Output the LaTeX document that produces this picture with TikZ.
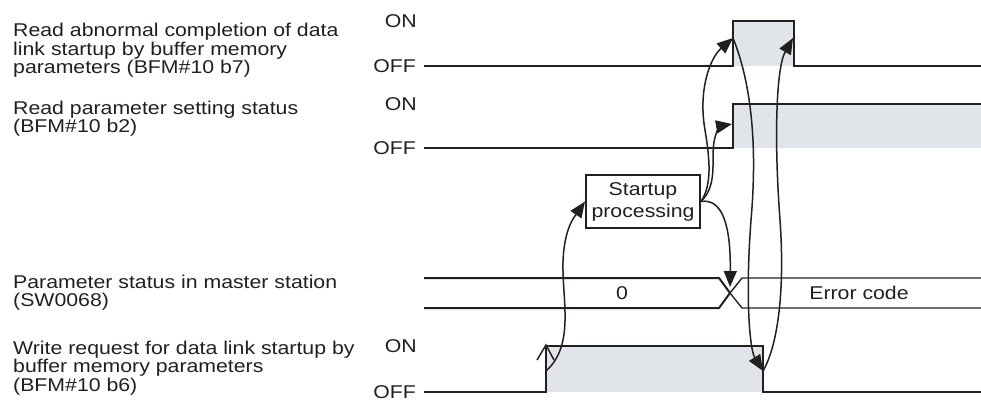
\documentclass[tikz,border=0pt]{standalone}
\usepackage{fontspec}
\setmainfont{Liberation Sans}[FakeStretch=1.15]
\usetikzlibrary{arrows.meta}
\definecolor{ink}{HTML}{231F20}
\definecolor{pulse}{HTML}{E1E4E9}

\begin{document}
\begin{tikzpicture}[x=1bp, y=-1bp, font=\fontsize{18.5bp}{18.5bp}\selectfont, text=ink,
	wave/.style={draw=ink, line width=2.2bp},
	bus/.style={draw=ink, line width=2bp},
	flow/.style={draw=ink, line width=1.5bp, -{Triangle[length=16bp, width=13bp]}},
	sig/.style={anchor=north west, align=left, inner sep=0pt},
	lvl/.style={anchor=east, inner sep=0pt}]
				\useasboundingbox (0,0) rectangle (981,403);
				
				% signal names
				\node[sig] (labB7) at (13,23) {Read abnormal completion of data\\link startup by buffer memory\\parameters (BFM\#10 b7)};
				\node[sig] (labB2) at (13,100.5) {Read parameter setting status\\(BFM\#10 b2)};
				\node[sig] (labSW) at (13,274.5) {Parameter status in master station\\(SW0068)};
				\node[sig] (labB6) at (13,340.5) {Write request for data link startup by\\buffer memory parameters\\(BFM\#10 b6)};
				
				\node[lvl] (onB7) at (417,21) {ON};
				\node[lvl] (offB7) at (416,66) {OFF};
				\node[lvl] (onB2) at (417,104) {ON};
				\node[lvl] (offB2) at (416,148) {OFF};
				\node[lvl] (onB6) at (417,346) {ON};
				\node[lvl] (offB6) at (416,392) {OFF};
				
				% waveforms
				\fill[pulse] (733,21) rectangle (794,66);
				\fill[pulse] (733,104) rectangle (981,148);
				\fill[pulse] (546,346) rectangle (763,392);
				
				\draw[wave] (424,66) -- (733,66) -- (733,21) -- (794,21) -- (794,66) -- (981,66);
				\draw[wave] (424,148) -- (733,148) -- (733,104) -- (981,104);
				\draw[wave] (424,392) -- (546,392) -- (546,346) -- (763,346) -- (763,392) -- (981,392);
				\draw[draw=ink, line width=1.5bp] (537,360) -- (546,345) -- (554,360);
				
				\draw[bus] (424,278) -- (719,278) -- (730,293);
				\draw[bus] (424,308) -- (719,308) -- (730,293);
				\draw[bus, line width=1.4bp] (730,293) -- (742,278) -- (981,278);
				\draw[bus, line width=1.4bp] (730,293) -- (742,308) -- (981,308);
				\node (val0) at (622,293) {0};
				\node (valErr) at (859,293) {Error code};
				
				\node[draw=ink, line width=2bp, align=center, minimum width=114bp, minimum height=53bp, inner sep=0pt, font=\fontsize{18.5bp}{22bp}\selectfont] (proc) at (643,201.5) {Startup\\processing};
				
				% points on the edges
				\coordinate (b6up) at (546,371);
				\coordinate (b7up) at (733,38);
				\coordinate (b2up) at (732,124);
				\coordinate (busX) at (730,287);
				\coordinate (b6dn) at (763,371);
				\coordinate (b7dn) at (793,38);
				
				\draw[flow] (b6up) .. controls (575,345) and (562,300) .. (563,262) .. controls (564,228) and (575,216) .. (proc.west);
				\draw[flow] (proc.east) .. controls (712,185) and (710,160) .. (705,130) .. controls (698,90) and (710,58) .. (b7up);
				\draw[flow] (proc.east) .. controls (718,185) and (711,160) .. (714,142) .. controls (716,130) and (721,126) .. (b2up);
				\draw[flow] (proc.east) .. controls (722,198) and (731,225) .. (busX);
				\draw[flow] (b7up) .. controls (750,80) and (758,140) .. (751,220) .. controls (745,300) and (750,350) .. (b6dn);
				\draw[flow] (b6dn) .. controls (778,345) and (785,290) .. (780,220) .. controls (774,140) and (776,68) .. (b7dn);
			\end{tikzpicture}
\end{document}
